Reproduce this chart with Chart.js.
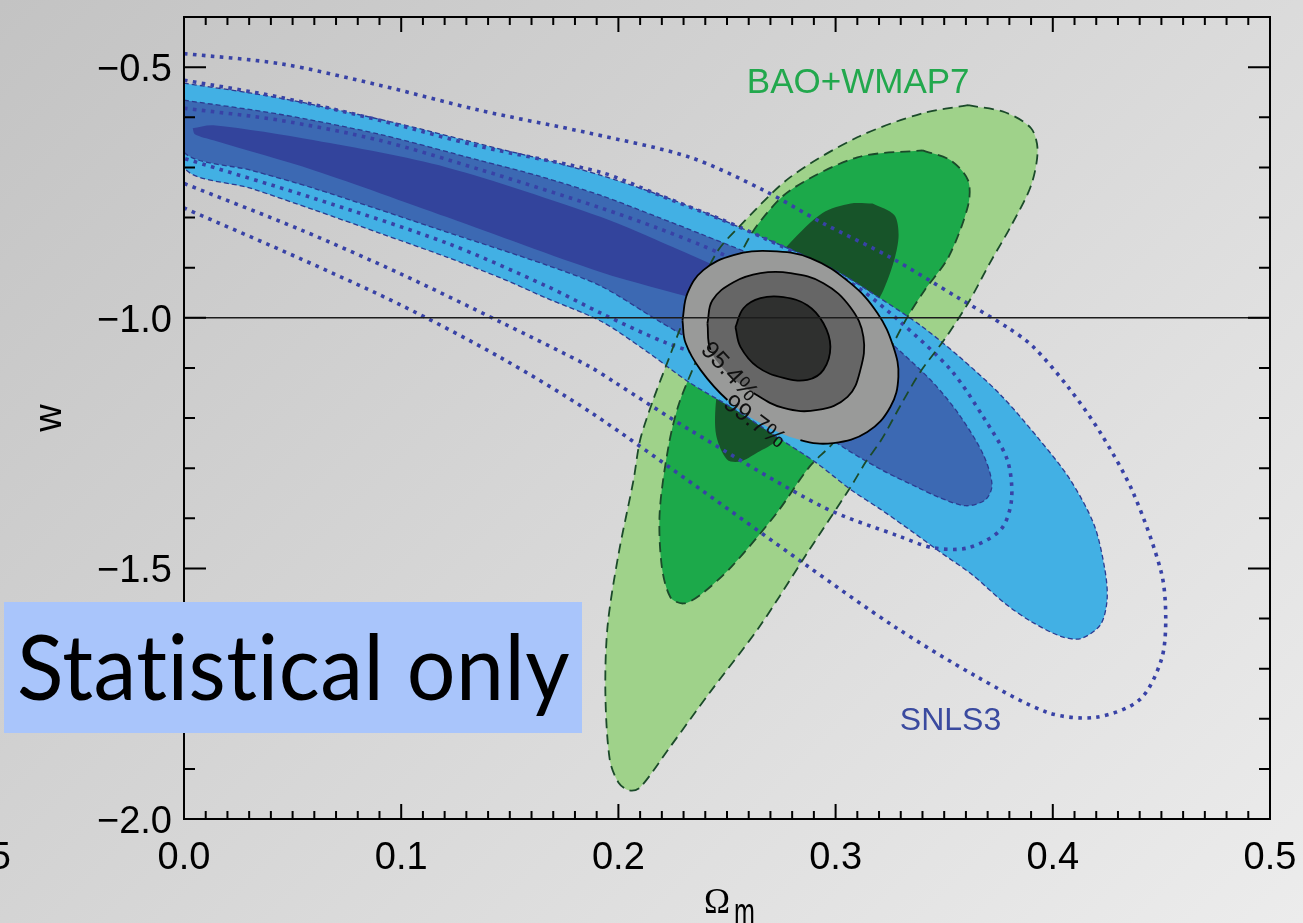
<!DOCTYPE html>
<html>
<head>
<meta charset="utf-8">
<title>w vs Ωm – SNLS3, BAO+WMAP7</title>
<script src="https://cdn.jsdelivr.net/npm/chart.js@4.4.0/dist/chart.umd.min.js"></script>
<style>
  html, body { margin: 0; padding: 0; background: #d8d8d8; }
  #wrap { width: 1303px; height: 923px; }
</style>
</head>
<body>
<div id="wrap"><canvas id="wChart" width="1303" height="923"></canvas></div>
<script>
// axis tick labels
const xTickValues = [0.0, 0.1, 0.2, 0.3, 0.4, 0.5];
const yTickValues = [-0.5, -1.0, -1.5, -2.0];
const wLambda = -1.0;

// SNLS3 filled contours, [Ωm, w]
const snlsOuter = [[0.000,-0.532],[0.031,-0.552],[0.054,-0.570],[0.100,-0.614],[0.146,-0.664],[0.169,-0.688],[0.192,-0.716],[0.215,-0.749],[0.238,-0.787],[0.265,-0.837],[0.298,-0.901],[0.319,-0.957],[0.339,-1.015],[0.357,-1.078],[0.376,-1.154],[0.394,-1.244],[0.408,-1.323],[0.419,-1.413],[0.424,-1.503],[0.425,-1.562],[0.422,-1.612],[0.413,-1.640],[0.404,-1.636],[0.390,-1.606],[0.378,-1.570],[0.363,-1.513],[0.348,-1.467],[0.336,-1.429],[0.321,-1.383],[0.307,-1.343],[0.291,-1.289],[0.273,-1.238],[0.254,-1.184],[0.233,-1.130],[0.212,-1.064],[0.192,-1.007],[0.167,-0.961],[0.146,-0.921],[0.121,-0.879],[0.090,-0.831],[0.060,-0.785],[0.031,-0.742],[0.000,-0.700],[0.000,-0.532]];
const snlsMid = [[0.000,-0.566],[0.044,-0.594],[0.090,-0.634],[0.136,-0.686],[0.164,-0.718],[0.192,-0.756],[0.218,-0.799],[0.238,-0.833],[0.265,-0.881],[0.293,-0.945],[0.316,-1.015],[0.330,-1.068],[0.345,-1.130],[0.357,-1.194],[0.368,-1.273],[0.372,-1.333],[0.369,-1.363],[0.360,-1.375],[0.348,-1.359],[0.338,-1.339],[0.321,-1.303],[0.302,-1.254],[0.275,-1.170],[0.247,-1.088],[0.230,-1.036],[0.218,-1.005],[0.192,-0.937],[0.167,-0.895],[0.121,-0.829],[0.060,-0.742],[0.031,-0.706],[0.000,-0.670],[0.000,-0.566]];
const snlsInner = [[0.004,-0.622],[0.0135,-0.616],[0.060,-0.646],[0.121,-0.700],[0.192,-0.799],[0.225,-0.859],[0.247,-0.901],[0.275,-0.955],[0.291,-0.995],[0.284,-1.015],[0.265,-1.001],[0.238,-0.965],[0.192,-0.909],[0.121,-0.799],[0.060,-0.706],[0.0135,-0.646],[0.005,-0.634],[0.004,-0.622]];

// SNLS3 dotted contours (open at the Ωm = 0 edge)
const snlsDot1 = [[0.000,-0.582],[0.044,-0.606],[0.090,-0.646],[0.136,-0.704],[0.192,-0.781],[0.218,-0.821],[0.238,-0.855],[0.256,-0.889],[0.279,-0.935],[0.298,-1.001],[0.291,-1.064],[0.270,-1.104],[0.247,-1.084],[0.222,-1.050],[0.192,-0.991],[0.167,-0.937],[0.121,-0.851],[0.060,-0.762],[0.000,-0.682]];
const snlsDot2 = [[0.000,-0.526],[0.044,-0.560],[0.090,-0.606],[0.136,-0.658],[0.192,-0.710],[0.218,-0.754],[0.248,-0.805],[0.267,-0.841],[0.293,-0.895],[0.312,-0.945],[0.330,-1.009],[0.353,-1.104],[0.368,-1.198],[0.379,-1.283],[0.381,-1.363],[0.376,-1.423],[0.361,-1.459],[0.345,-1.459],[0.330,-1.437],[0.294,-1.377],[0.233,-1.224],[0.198,-1.128],[0.187,-1.098],[0.146,-1.009],[0.100,-0.913],[0.054,-0.825],[0.000,-0.732]];
const snlsDot3 = [[0.000,-0.473],[0.044,-0.493],[0.090,-0.536],[0.136,-0.586],[0.187,-0.632],[0.233,-0.680],[0.267,-0.746],[0.294,-0.811],[0.325,-0.879],[0.356,-0.959],[0.379,-1.019],[0.391,-1.058],[0.407,-1.138],[0.422,-1.230],[0.437,-1.349],[0.450,-1.509],[0.452,-1.602],[0.450,-1.682],[0.440,-1.762],[0.420,-1.797],[0.398,-1.788],[0.365,-1.716],[0.327,-1.616],[0.285,-1.489],[0.238,-1.343],[0.187,-1.188],[0.146,-1.080],[0.100,-0.975],[0.054,-0.883],[0.000,-0.781]];

// BAO+WMAP7 contours
const baoOuter = [[0.361,-0.576],[0.378,-0.590],[0.390,-0.622],[0.393,-0.666],[0.390,-0.736],[0.381,-0.815],[0.371,-0.891],[0.361,-0.971],[0.350,-1.044],[0.339,-1.108],[0.330,-1.174],[0.321,-1.244],[0.314,-1.287],[0.307,-1.337],[0.287,-1.469],[0.265,-1.616],[0.242,-1.748],[0.224,-1.855],[0.210,-1.937],[0.205,-1.943],[0.200,-1.927],[0.196,-1.881],[0.194,-1.748],[0.195,-1.616],[0.200,-1.473],[0.207,-1.323],[0.210,-1.244],[0.216,-1.164],[0.223,-1.084],[0.230,-1.005],[0.238,-0.931],[0.246,-0.865],[0.255,-0.821],[0.279,-0.720],[0.310,-0.640],[0.340,-0.592],[0.361,-0.576]];
const baoMid = [[0.340,-0.666],[0.353,-0.686],[0.361,-0.726],[0.361,-0.776],[0.352,-0.879],[0.341,-0.945],[0.333,-0.999],[0.325,-1.064],[0.316,-1.134],[0.307,-1.204],[0.298,-1.254],[0.288,-1.297],[0.273,-1.389],[0.252,-1.497],[0.238,-1.552],[0.230,-1.570],[0.224,-1.558],[0.220,-1.497],[0.219,-1.389],[0.223,-1.258],[0.228,-1.170],[0.238,-1.064],[0.247,-0.965],[0.256,-0.875],[0.264,-0.815],[0.279,-0.746],[0.310,-0.680],[0.340,-0.666]];
const baoInner = [[0.317,-0.772],[0.327,-0.795],[0.329,-0.835],[0.327,-0.885],[0.322,-0.945],[0.316,-0.989],[0.302,-1.064],[0.284,-1.164],[0.273,-1.244],[0.264,-1.269],[0.256,-1.287],[0.250,-1.283],[0.245,-1.234],[0.245,-1.164],[0.249,-1.064],[0.261,-0.945],[0.279,-0.851],[0.294,-0.791],[0.307,-0.772],[0.317,-0.772]];

// combined SNLS3 + BAO+WMAP7 contours
const combOuter = [[0.2295,-1.005],[0.2318,-0.951],[0.2391,-0.905],[0.2530,-0.875],[0.2700,-0.867],[0.2884,-0.881],[0.3068,-0.931],[0.3193,-0.991],[0.3266,-1.058],[0.3289,-1.118],[0.3252,-1.178],[0.3146,-1.228],[0.2990,-1.250],[0.2838,-1.244],[0.2654,-1.210],[0.2502,-1.164],[0.2378,-1.104],[0.2309,-1.050],[0.2295,-1.005]];
const combMid = [[0.2410,-1.011],[0.2433,-0.965],[0.2530,-0.929],[0.2654,-0.911],[0.2792,-0.911],[0.2944,-0.931],[0.3068,-0.979],[0.3128,-1.038],[0.3114,-1.104],[0.3055,-1.158],[0.2917,-1.184],[0.2760,-1.180],[0.2622,-1.150],[0.2502,-1.110],[0.2424,-1.064],[0.2410,-1.011]];
const combInner = [[0.2539,-1.019],[0.2576,-0.981],[0.2654,-0.961],[0.2760,-0.959],[0.2870,-0.975],[0.2944,-1.011],[0.2976,-1.058],[0.2944,-1.104],[0.2870,-1.124],[0.2760,-1.120],[0.2640,-1.098],[0.2562,-1.058],[0.2539,-1.019]];

// segments of the combined outlines left open for the level labels
const combOuterGap = [13, 14];
const combMidGap = [12, 13];

const pts = arr => arr.map(([x, y]) => ({ x, y }));

// a filled region
const area = (data, color, order, extra) => Object.assign({
    data: pts(data), fill: 'shape', backgroundColor: color,
    borderColor: 'rgba(0,0,0,0)', borderWidth: 0, tension: 0.3, order
}, extra || {});

// an outline only
const outline = (data, color, width, dash, order, extra) => Object.assign({
    data: pts(data), fill: false, borderColor: color, borderWidth: width,
    borderDash: dash, tension: 0.3, order
}, extra || {});

const blueEdge = { borderColor: '#2c3b90', borderWidth: 1.3, borderDash: [5, 3] };
const round = { tension: 0.4 };
const gapStyle = gaps => ({
    tension: 0.4,
    segment: { borderColor: c => gaps.includes(c.p0DataIndex) ? 'rgba(0,0,0,0)' : '#000' }
});
const dots = [3.6, 5.4];

const datasets = [
    area(baoOuter, '#9fd28a', 30),
    area(baoMid, '#1ca94a', 29),
    area(baoInner, '#175429', 28),
    area(snlsOuter, '#42b0e4', 27, blueEdge),
    area(snlsMid, '#3c69b3', 26, blueEdge),
    area(snlsInner, '#33449c', 25),
    outline(snlsDot1, '#3842a6', 3.6, dots, 24),
    outline(snlsDot2, '#3842a6', 3.6, dots, 23),
    outline(snlsDot3, '#3842a6', 3.6, dots, 22),
    outline(baoOuter, '#1b4a2a', 1.8, [10, 6], 21),
    outline(baoMid, '#1b4a2a', 1.8, [10, 6], 20),
    area(combOuter, '#999a99', 15, round),
    area(combMid, '#666666', 14, round),
    area(combInner, '#2f302f', 13, round),
    outline(combOuter, '#000', 1.8, [], 12, gapStyle(combOuterGap)),
    outline(combMid, '#000', 1.8, [], 11, gapStyle(combMidGap)),
    outline(combInner, '#000', 1.8, [], 10, round),
    outline([[0, wLambda], [0.5, wLambda]], '#1c1c1c', 1.3, [], 5, { tension: 0 })
];

const fmtY = v => '\u2212' + Math.abs(v).toFixed(1);

const decor = {
    id: 'decor',
    beforeDraw(chart) {
        const { ctx, width, height } = chart;
        const g = ctx.createLinearGradient(0, 0, 1113, 1113);
        g.addColorStop(0, '#c3c3c3');
        g.addColorStop(1, '#ececec');
        ctx.save();
        ctx.fillStyle = g;
        ctx.fillRect(0, 0, width, height);
        ctx.restore();
    },
    afterDatasetsDraw(chart) {
        const { ctx, scales: { x, y } } = chart;
        ctx.save();
        // level labels on the combined contours
        ctx.fillStyle = '#111';
        ctx.font = '25px "Liberation Sans", Arial, sans-serif';
        ctx.textAlign = 'center';
        ctx.textBaseline = 'middle';
        [['95.4%', 0.2509, -1.108, 47], ['99.7%', 0.2626, -1.208, 37]].forEach(([t, px, py, a]) => {
            ctx.save();
            ctx.translate(x.getPixelForValue(px), y.getPixelForValue(py));
            ctx.rotate(a * Math.PI / 180);
            ctx.fillText(t, 0, 0);
            ctx.restore();
        });
        // dataset names
        ctx.textBaseline = 'alphabetic';
        ctx.font = '35px "Liberation Sans", Arial, sans-serif';
        ctx.fillStyle = '#22a84d';
        ctx.fillText('BAO+WMAP7', x.getPixelForValue(0.3104), y.getPixelForValue(-0.552));
        ctx.font = '32px "Liberation Sans", Arial, sans-serif';
        ctx.fillStyle = '#3a4a9f';
        ctx.fillText('SNLS3', x.getPixelForValue(0.3529), y.getPixelForValue(-1.823));
        ctx.restore();
    },
    afterDraw(chart) {
        const { ctx, chartArea: a, scales: { x, y } } = chart;
        ctx.save();
        ctx.strokeStyle = '#000';
        ctx.lineWidth = 2;
        ctx.strokeRect(a.left, a.top, a.right - a.left, a.bottom - a.top);

        // inward ticks on all four sides
        ctx.beginPath();
        for (let i = 0; i <= 50; i++) {
            const px = x.getPixelForValue(i / 100);
            const len = i % 10 === 0 ? 15 : 8;
            ctx.moveTo(px, a.bottom); ctx.lineTo(px, a.bottom - len);
            ctx.moveTo(px, a.top); ctx.lineTo(px, a.top + len);
        }
        for (let i = 5; i <= 20; i++) {
            const py = y.getPixelForValue(-i / 10);
            const len = i % 5 === 0 ? 22 : 11;
            ctx.moveTo(a.left, py); ctx.lineTo(a.left + len, py);
            ctx.moveTo(a.right, py); ctx.lineTo(a.right - len, py);
        }
        ctx.stroke();

        // tick labels
        ctx.fillStyle = '#000';
        ctx.font = '38px "Liberation Sans", Arial, sans-serif';
        ctx.textBaseline = 'alphabetic';
        ctx.textAlign = 'center';
        xTickValues.forEach(v => ctx.fillText(v.toFixed(1), x.getPixelForValue(v), 869));
        ctx.textAlign = 'right';
        ctx.fillText('0.5', 11, 869);
        yTickValues.forEach(v => ctx.fillText(fmtY(v), a.left - 12, y.getPixelForValue(v) + 14));

        // axis titles
        ctx.save();
        ctx.translate(51, (a.top + a.bottom) / 2);
        ctx.rotate(-Math.PI / 2);
        ctx.textAlign = 'center';
        ctx.textBaseline = 'middle';
        ctx.fillText('w', 0, 0);
        ctx.restore();

        ctx.textAlign = 'left';
        ctx.font = '35px "Liberation Serif", "Times New Roman", serif';
        ctx.fillText('\u03A9', 704, 913);
        ctx.save();
        ctx.translate(734, 925);
        ctx.scale(0.66, 1);
        ctx.font = '38px "Liberation Sans", Arial, sans-serif';
        ctx.fillText('m', 0, 0);
        ctx.restore();

        // caption box
        ctx.fillStyle = '#a9c5fb';
        ctx.fillRect(4, 602, 578, 131);
        ctx.fillStyle = '#000';
        ctx.font = '92px Lato, "Open Sans", sans-serif';
        ctx.letterSpacing = '0.5px';
        const cap = 'Statistical only';
        const cw = ctx.measureText(cap).width;
        ctx.translate(17, 700);
        ctx.scale(553 / cw, 1);
        ctx.fillText(cap, 0, 0);
        ctx.restore();
    }
};

new Chart(document.getElementById('wChart'), {
    type: 'line',
    data: { datasets },
    options: {
        responsive: false,
        animation: false,
        events: [],
        layout: { padding: { left: 184, right: 33, top: 17, bottom: 104 } },
        elements: { point: { radius: 0, hitRadius: 0 } },
        plugins: { legend: { display: false }, tooltip: { enabled: false } },
        scales: {
            x: { type: 'linear', min: 0, max: 0.5, display: false },
            y: { type: 'linear', min: -2.0, max: -0.4, display: false }
        }
    },
    plugins: [decor]
});
</script>
</body>
</html>
